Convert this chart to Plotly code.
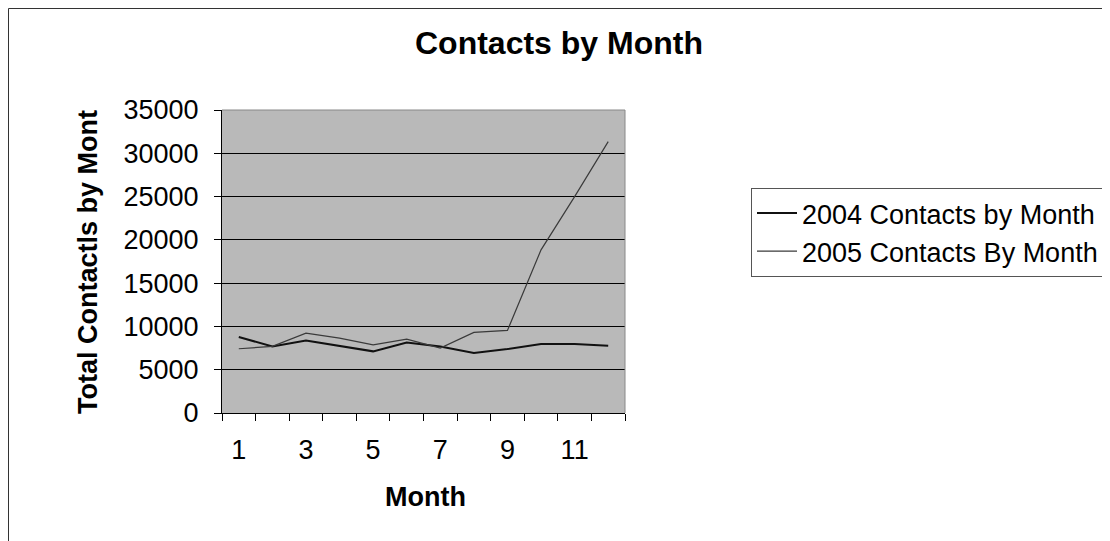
import plotly.graph_objects as go

months = list(range(1, 13))
contacts_2004 = [8770, 7690, 8380, 7770, 7120, 8150, 7690, 6920, 7380, 7960, 7960, 7770]
contacts_2005 = [7420, 7690, 9230, 8650, 7880, 8540, 7500, 9310, 9540, 18850, 25000, 31350]
series_names = ["2004 Contacts by Month", "2005 Contacts By Month"]
y_ticks = [0, 5000, 10000, 15000, 20000, 25000, 30000, 35000]
x_ticks = [1, 3, 5, 7, 9, 11]

# page body adds an 8px offset; figure coordinates below are reference minus 8
W, H = 1102, 533
L, R, T, B = 214, 617, 102, 405

fig = go.Figure()
fig.add_trace(go.Scatter(x=months, y=contacts_2004, mode="lines", name=series_names[0],
                         line=dict(color="#111111", width=2)))
fig.add_trace(go.Scatter(x=months, y=contacts_2005, mode="lines", name=series_names[1],
                         line=dict(color="#3a3a3a", width=1.2)))

pw, ph = R - L, B - T
def px(xpix):
    return (xpix - L) / pw
def py(ypix):
    return (B - ypix) / ph

FONT = "Liberation Sans, Arial"

fig.update_layout(
    width=W, height=H,
    margin=dict(l=L, r=W - R, t=T, b=H - B, pad=0, autoexpand=False),
    paper_bgcolor="white",
    plot_bgcolor="#b9b9b9",
    font=dict(family=FONT, color="black", size=27),
    title=dict(text="<b>Contacts by Month</b>", x=551 / W, xanchor="center",
               y=1 - 35 / H, yanchor="middle", font=dict(size=32)),
    showlegend=True,
    legend=dict(x=px(743), y=py(180), xanchor="left", yanchor="top",
                bgcolor="white", bordercolor="#555555", borderwidth=1,
                font=dict(size=27), tracegroupgap=0, itemwidth=40),
    xaxis=dict(range=[0.5, 12.5], tickvals=x_ticks, ticktext=[str(v) for v in x_ticks],
               ticks="", showgrid=False, zeroline=False, showline=True,
               linecolor="black", linewidth=1,
               minor=dict(tickvals=[i + 0.5 for i in range(0, 13)], ticks="outside",
                          ticklen=7, tickcolor="black", showgrid=False),
               ticklabelstandoff=13),
    yaxis=dict(range=[0, 35000], tickvals=y_ticks, tickformat="d", ticks="outside", ticklen=7,
               tickcolor="black", showgrid=True, gridcolor="black", gridwidth=1,
               zeroline=False, showline=True, linecolor="black", linewidth=1,
               ticklabelstandoff=10),
    annotations=[
        dict(text="<b>Month</b>", xref="paper", yref="paper", x=px(417), y=py(489),
             xanchor="center", yanchor="middle", showarrow=False, font=dict(size=27)),
        dict(text="<b>Total Contactls by Mont</b>", xref="paper", yref="paper",
             x=px(80), y=py(254), xanchor="center", yanchor="middle", textangle=-90,
             showarrow=False, font=dict(size=27)),
    ],
    shapes=[
        dict(type="line", xref="paper", yref="paper", x0=1, x1=1, y0=0, y1=1,
             line=dict(color="#888888", width=1)),
        dict(type="line", xref="paper", yref="paper", x0=0, x1=1, y0=1, y1=1,
             line=dict(color="#888888", width=1)),
        dict(type="rect", xref="paper", yref="paper", x0=px(0.5), x1=px(1120),
             y0=py(560), y1=py(0.5), line=dict(color="#333333", width=1), layer="below"),
    ],
)

fig.write_html("out.html")
